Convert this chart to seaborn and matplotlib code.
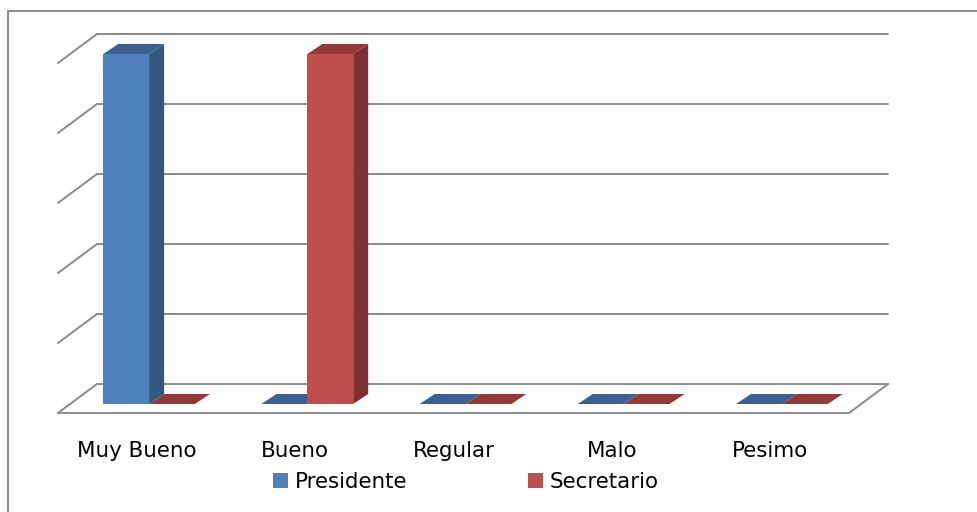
import matplotlib
matplotlib.use("Agg")
import matplotlib.pyplot as plt
from matplotlib.patches import Polygon, Rectangle
from matplotlib.lines import Line2D
from matplotlib.transforms import IdentityTransform, ScaledTranslation
import pandas as pd
import seaborn as sns

# Survey results
categorias = ["Muy Bueno", "Bueno", "Regular", "Malo", "Pesimo"]
series = ["Presidente", "Secretario"]
presidente = [1, 0, 0, 0, 0]
secretario = [0, 1, 0, 0, 0]
y_ticks = [0, 0.2, 0.4, 0.6, 0.8, 1.0]

df = pd.DataFrame({
    "categoria": categorias * 2,
    "cargo": [series[0]] * len(categorias) + [series[1]] * len(categorias),
    "valor": presidente + secretario,
})

# Office-style palette: front, side and top shades of each column
front = {"Presidente": "#4F81BD", "Secretario": "#C0504D"}
side = {"Presidente": "#34577F", "Secretario": "#7D302E"}
top = {"Presidente": "#3C6092", "Secretario": "#923A37"}
grid_color = "#8A8A8A"

sns.set_theme(style="white")
plt.rcParams["font.family"] = ["DejaVu Sans"]
FS = 15.4

W, H, DPI = 978, 512, 100
fig = plt.figure(figsize=(W / DPI, H / DPI), dpi=DPI)
fig.patch.set_facecolor("white")

# The axes is the front plane of the columns (pixel box, measured from top-left)
left_px, right_px, bottom_px, top_px = 70, 861, 404, 54
ax = fig.add_axes([left_px / W, 1 - bottom_px / H,
                   (right_px - left_px) / W, (bottom_px - top_px) / H])

sns.barplot(data=df, x="categoria", y="valor", hue="cargo", palette=front,
            width=0.58, saturation=1, linewidth=0, ax=ax, legend=False,
            errorbar=None, zorder=3)
ax.set_xlim(-0.5, len(categorias) - 0.5)
ax.set_ylim(0, 1)
ax.set_facecolor("none")
for s in ax.spines.values():
    s.set_visible(False)
ax.set_xlabel("")
ax.set_ylabel("")
ax.set_yticks([])
ax.tick_params(axis="x", length=0, pad=0, labelsize=FS, colors="black")
ax.set_xticks(range(len(categorias)))
ax.set_xticklabels(categorias)

# Depth offsets (display pixels) from the column plane
FRONT = (-12, -9)    # floor front edge
BACK = (27, 20)      # back wall
DEPTH = (15, 10)     # column depth

for lab in ax.get_xticklabels():
    lab.set_va("baseline")
    lab.set_transform(lab.get_transform() +
                      ScaledTranslation(FRONT[0] / DPI, -53 / DPI, fig.dpi_scale_trans))

fig.canvas.draw()
T = ax.transData
xl = T.transform((-0.5, 0))[0]
xr = T.transform((len(categorias) - 0.5, 0))[0]


def add_line(xs, ys, z=0.5):
    ln = Line2D(xs, ys, transform=IdentityTransform(), color=grid_color,
                lw=1.4, zorder=z, clip_on=False)
    ax.add_artist(ln)


# Back wall gridlines and the left wall diagonals
for v in y_ticks:
    yv = T.transform((0, v))[1]
    add_line([xl + BACK[0], xr + BACK[0]], [yv + BACK[1], yv + BACK[1]])
    add_line([xl + FRONT[0], xl + BACK[0]], [yv + FRONT[1], yv + BACK[1]])

# Floor outline: front edge and right side
y0 = T.transform((0, 0))[1]
add_line([xl + FRONT[0], xr + FRONT[0], xr + BACK[0]],
         [y0 + FRONT[1], y0 + FRONT[1], y0 + BACK[1]])

# Top and side faces of every column
for patch in list(ax.patches):
    fc = matplotlib.colors.to_hex(patch.get_facecolor())
    name = series[0] if fc.lower() == front[series[0]].lower() else series[1]
    x0, yb = patch.get_x(), patch.get_y()
    w, h = patch.get_width(), patch.get_height()
    X0, Y0 = T.transform((x0, yb))
    X1, Y1 = T.transform((x0 + w, yb + h))
    dx, dy = DEPTH
    ax.add_patch(Polygon([(X0, Y1), (X1, Y1), (X1 + dx, Y1 + dy), (X0 + dx, Y1 + dy)],
                         closed=True, transform=IdentityTransform(), facecolor=top[name],
                         edgecolor="none", zorder=2, clip_on=False))
    if h > 0:
        ax.add_patch(Polygon([(X1, Y0), (X1 + dx, Y0 + dy), (X1 + dx, Y1 + dy), (X1, Y1)],
                             closed=True, transform=IdentityTransform(),
                             facecolor=side[name], edgecolor="none", zorder=2,
                             clip_on=False))

# Legend
handles = [Rectangle((0, 0), 1, 1, facecolor=front[s], edgecolor="none") for s in series]
fig.legend(handles, series, loc="center", bbox_to_anchor=(466 / W, 1 - 482 / H),
           ncol=2, frameon=False, fontsize=FS, handlelength=0.7, handleheight=0.7,
           handletextpad=0.33, columnspacing=5.6, borderpad=0, labelcolor="black")

# Chart area border
fig.add_artist(Rectangle((8 / W, -0.1), 1.2, 1 - 11 / H + 0.1, transform=fig.transFigure,
                         fill=False, edgecolor="#8C8C8C", lw=1.4, clip_on=False))

fig.savefig("out.png", dpi=DPI)
